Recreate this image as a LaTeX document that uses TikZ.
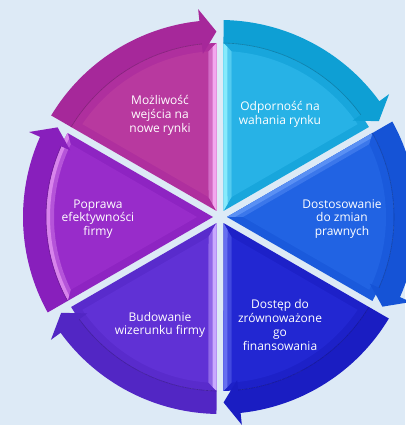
\documentclass[tikz,border=0pt]{standalone}
\usepackage{fontspec}
\setmainfont{Open Sans}
\definecolor{bg}{HTML}{DDEAF6}
% Mozliwosc
\definecolor{mBand}{HTML}{A6289A}
\definecolor{mFace}{HTML}{AF2F9E}
\definecolor{mIn}{HTML}{B8399F}
\definecolor{mHi}{HTML}{F2A6EE}
% Odpornosc
\definecolor{oBand}{HTML}{0E9FD4}
\definecolor{oFace}{HTML}{18A6DC}
\definecolor{oIn}{HTML}{27B2E6}
\definecolor{oHi}{HTML}{86EAFC}
% Dostosowanie
\definecolor{dBand}{HTML}{1553D6}
\definecolor{dFace}{HTML}{1A5ADC}
\definecolor{dIn}{HTML}{2163E3}
\definecolor{dHi}{HTML}{5A90F4}
% Dostep
\definecolor{fBand}{HTML}{1A1DC2}
\definecolor{fFace}{HTML}{1D21C8}
\definecolor{fIn}{HTML}{2227D2}
\definecolor{fHi}{HTML}{6670F0}
% Budowanie
\definecolor{bBand}{HTML}{5226C4}
\definecolor{bFace}{HTML}{592BCC}
\definecolor{bIn}{HTML}{6031D5}
\definecolor{bHi}{HTML}{C8A8FE}
% Poprawa
\definecolor{pBand}{HTML}{881FBC}
\definecolor{pFace}{HTML}{8E24C2}
\definecolor{pIn}{HTML}{982CCA}
\definecolor{pHi}{HTML}{D884EC}
\newcommand\segshape[4]{% #1 mid angle, #2 band, #3 face, #4 inner
  \begin{scope}[shift={(C)}, rotate=#1]
    \fill[#3] (0:7) -- (-28.85:174) arc[start angle=-28.85, end angle=28.85, radius=174] -- cycle;
    \fill[#4] (0:23) -- (-26:166) arc[start angle=-26, end angle=26, radius=166] -- cycle;
  \end{scope}}
\newcommand\segband[2]{% #1 mid angle, #2 band colour
  \begin{scope}[shift={(C)}, rotate=#1]
    \fill[#2] (28.98:197) arc[start angle=28.98, end angle=-24, radius=197]
      -- (-24:209) -- (-28.9:185.5) -- (-24:164) -- (-24:174)
      arc[start angle=-24, end angle=28.85, radius=174] -- cycle;
    \draw[#2!80!black, line width=0.6pt] (-24:174) arc[start angle=-24, end angle=28.85, radius=174];
  \end{scope}}
\newcommand\hitrail[3]{%
  \fill[#3!55!#2, shift={(C)}, rotate=#1] (0:7) -- (28.85:174) -- (26:166) -- (0:23) -- cycle;
  \fill[#2, shift={(C)}, rotate=#1] (0:7) -- (28.85:174) -- (27.5:170) -- (0:15) -- cycle;}
\newcommand\hilead[3]{%
  \fill[#3!55!#2, shift={(C)}, rotate=#1] (0:7) -- (-28.85:174) -- (-26:166) -- (0:23) -- cycle;
  \fill[#2, shift={(C)}, rotate=#1] (0:7) -- (-28.85:174) -- (-27.5:170) -- (0:15) -- cycle;}
\newcommand\hiarc[3]{%
  \fill[#3!55!#2, shift={(C)}, rotate=#1] (-28.85:174) arc[start angle=-28.85, end angle=28.85, radius=174] -- (26:166) arc[start angle=26, end angle=-26, radius=166] -- cycle;
  \fill[#2, shift={(C)}, rotate=#1] (-28.85:174) arc[start angle=-28.85, end angle=28.85, radius=174] -- (27.5:170) arc[start angle=27.5, end angle=-27.5, radius=170] -- cycle;}
\begin{document}
\begin{tikzpicture}[x=1pt,y=1pt,
  lbl/.style={text=white, font=\fontsize{12}{13.8}\selectfont, align=center, inner sep=0pt}]
\useasboundingbox (0,0) rectangle (405,425);
\fill[bg] (0,0) rectangle (405,425);
\coordinate (C) at (220,208);
% faces
\segshape{120}{mBand}{mFace}{mIn}
\segshape{60}{oBand}{oFace}{oIn}
\segshape{0}{dBand}{dFace}{dIn}
\segshape{-60}{fBand}{fFace}{fIn}
\segshape{-120}{bBand}{bFace}{bIn}
\segshape{180}{pBand}{pFace}{pIn}
% bevel highlights
\hilead{120}{mHi}{mIn}
\hitrail{60}{oHi}{oIn}
\hitrail{0}{dHi}{dIn}
\hilead{-60}{fHi}{fIn}
\hitrail{-120}{bHi}{bIn}
\hiarc{180}{pHi}{pIn}
% bands with arrowheads
\segband{120}{mBand}
\segband{60}{oBand}
\segband{0}{dBand}
\segband{-60}{fBand}
\segband{-120}{bBand}
\segband{180}{pBand}
% labels
\path (C) ++(120:120) ++(0,-2) node[lbl] (t1) {Możliwość\\wejścia na\\nowe rynki};
\path (C) ++(60:120) ++(0,-1) node[lbl] (t2) {Odporność na\\wahania rynku};
\path (C) ++(0:122) ++(0,-2) node[lbl] (t3) {Dostosowanie\\do zmian\\prawnych};
\path (C) ++(-60:120) ++(0,-4) node[lbl] (t4) {Dostęp do\\zrównoważone\\go\\finansowania};
\path (C) ++(-120:120) ++(0,-4) node[lbl] (t5) {Budowanie\\wizerunku firmy};
\path (C) ++(180:120) ++(-2,-2) node[lbl] (t6) {Poprawa\\efektywności\\firmy};
\end{tikzpicture}
\end{document}
